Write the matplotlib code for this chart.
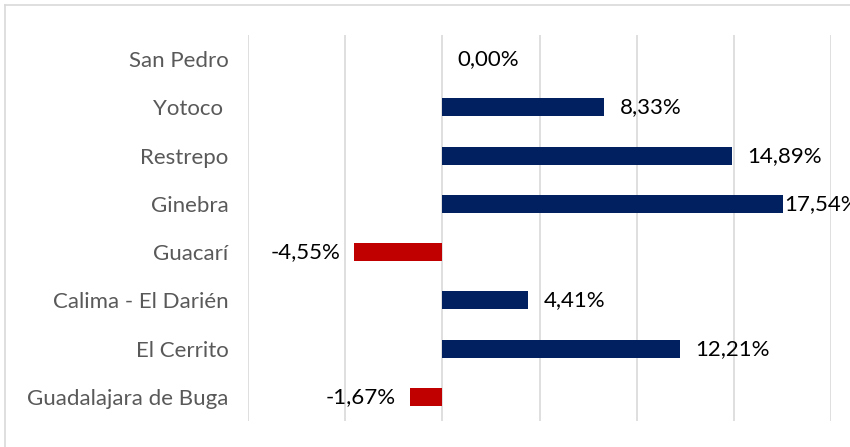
import matplotlib.pyplot as plt
from matplotlib.lines import Line2D

# Datos
municipios = ['San Pedro', 'Yotoco ', 'Restrepo', 'Ginebra', 'Guacarí',
              'Calima - El Darién', 'El Cerrito', 'Guadalajara de Buga']
variacion = [0.00, 8.33, 14.89, 17.54, -4.55, 4.41, 12.21, -1.67]

azul = '#002060'
rojo = '#C00000'

plt.rcParams['font.family'] = ['Lato', 'DejaVu Sans']

W, H = 850, 447
fig = plt.figure(figsize=(W / 100, H / 100), dpi=100)
ax = fig.add_axes([248 / W, 26 / H, (831 - 248) / W, (421 - 35) / H])

y = list(range(len(municipios)))
colores = [azul if v >= 0 else rojo for v in variacion]
ax.barh(y, variacion, height=0.37, color=colores, zorder=3)

ax.set_xlim(-10, 20)
ax.set_ylim(len(municipios) - 0.5, -0.5)
ax.set_xticks(range(-10, 21, 5))
ax.tick_params(axis='x', length=0, labelbottom=False)
ax.tick_params(axis='y', length=0, pad=14)
ax.set_yticks(y)
ax.set_yticklabels(municipios, fontsize=16, color='#595959')
ax.grid(axis='x', color='#d9d9d9', linewidth=1.2)
for s in ax.spines.values():
    s.set_visible(False)

# Etiquetas de datos (la más larga se corre para caber, como en Excel)
vmax = max(variacion)
for i, v in enumerate(variacion):
    txt = f'{v:.2f}%'.replace('.', ',')
    if v >= 0:
        dx = 1 if v == vmax else 11
        ax.annotate(txt, (v, i), xytext=(dx, 0), textcoords='offset points',
                    ha='left', va='center', fontsize=16, color='black',
                    annotation_clip=False)
    else:
        ax.annotate(txt, (v, i), xytext=(-10, 0), textcoords='offset points',
                    ha='right', va='center', fontsize=16, color='black',
                    annotation_clip=False)

# Marco del gráfico
fig.add_artist(Line2D([5 / W, 5 / W], [0, 1 - 5 / H], transform=fig.transFigure,
                      color='#d9d9d9', linewidth=1.2))
fig.add_artist(Line2D([5 / W, 1], [1 - 5 / H, 1 - 5 / H], transform=fig.transFigure,
                      color='#d9d9d9', linewidth=1.2))

plt.savefig('out.png', dpi=100)
